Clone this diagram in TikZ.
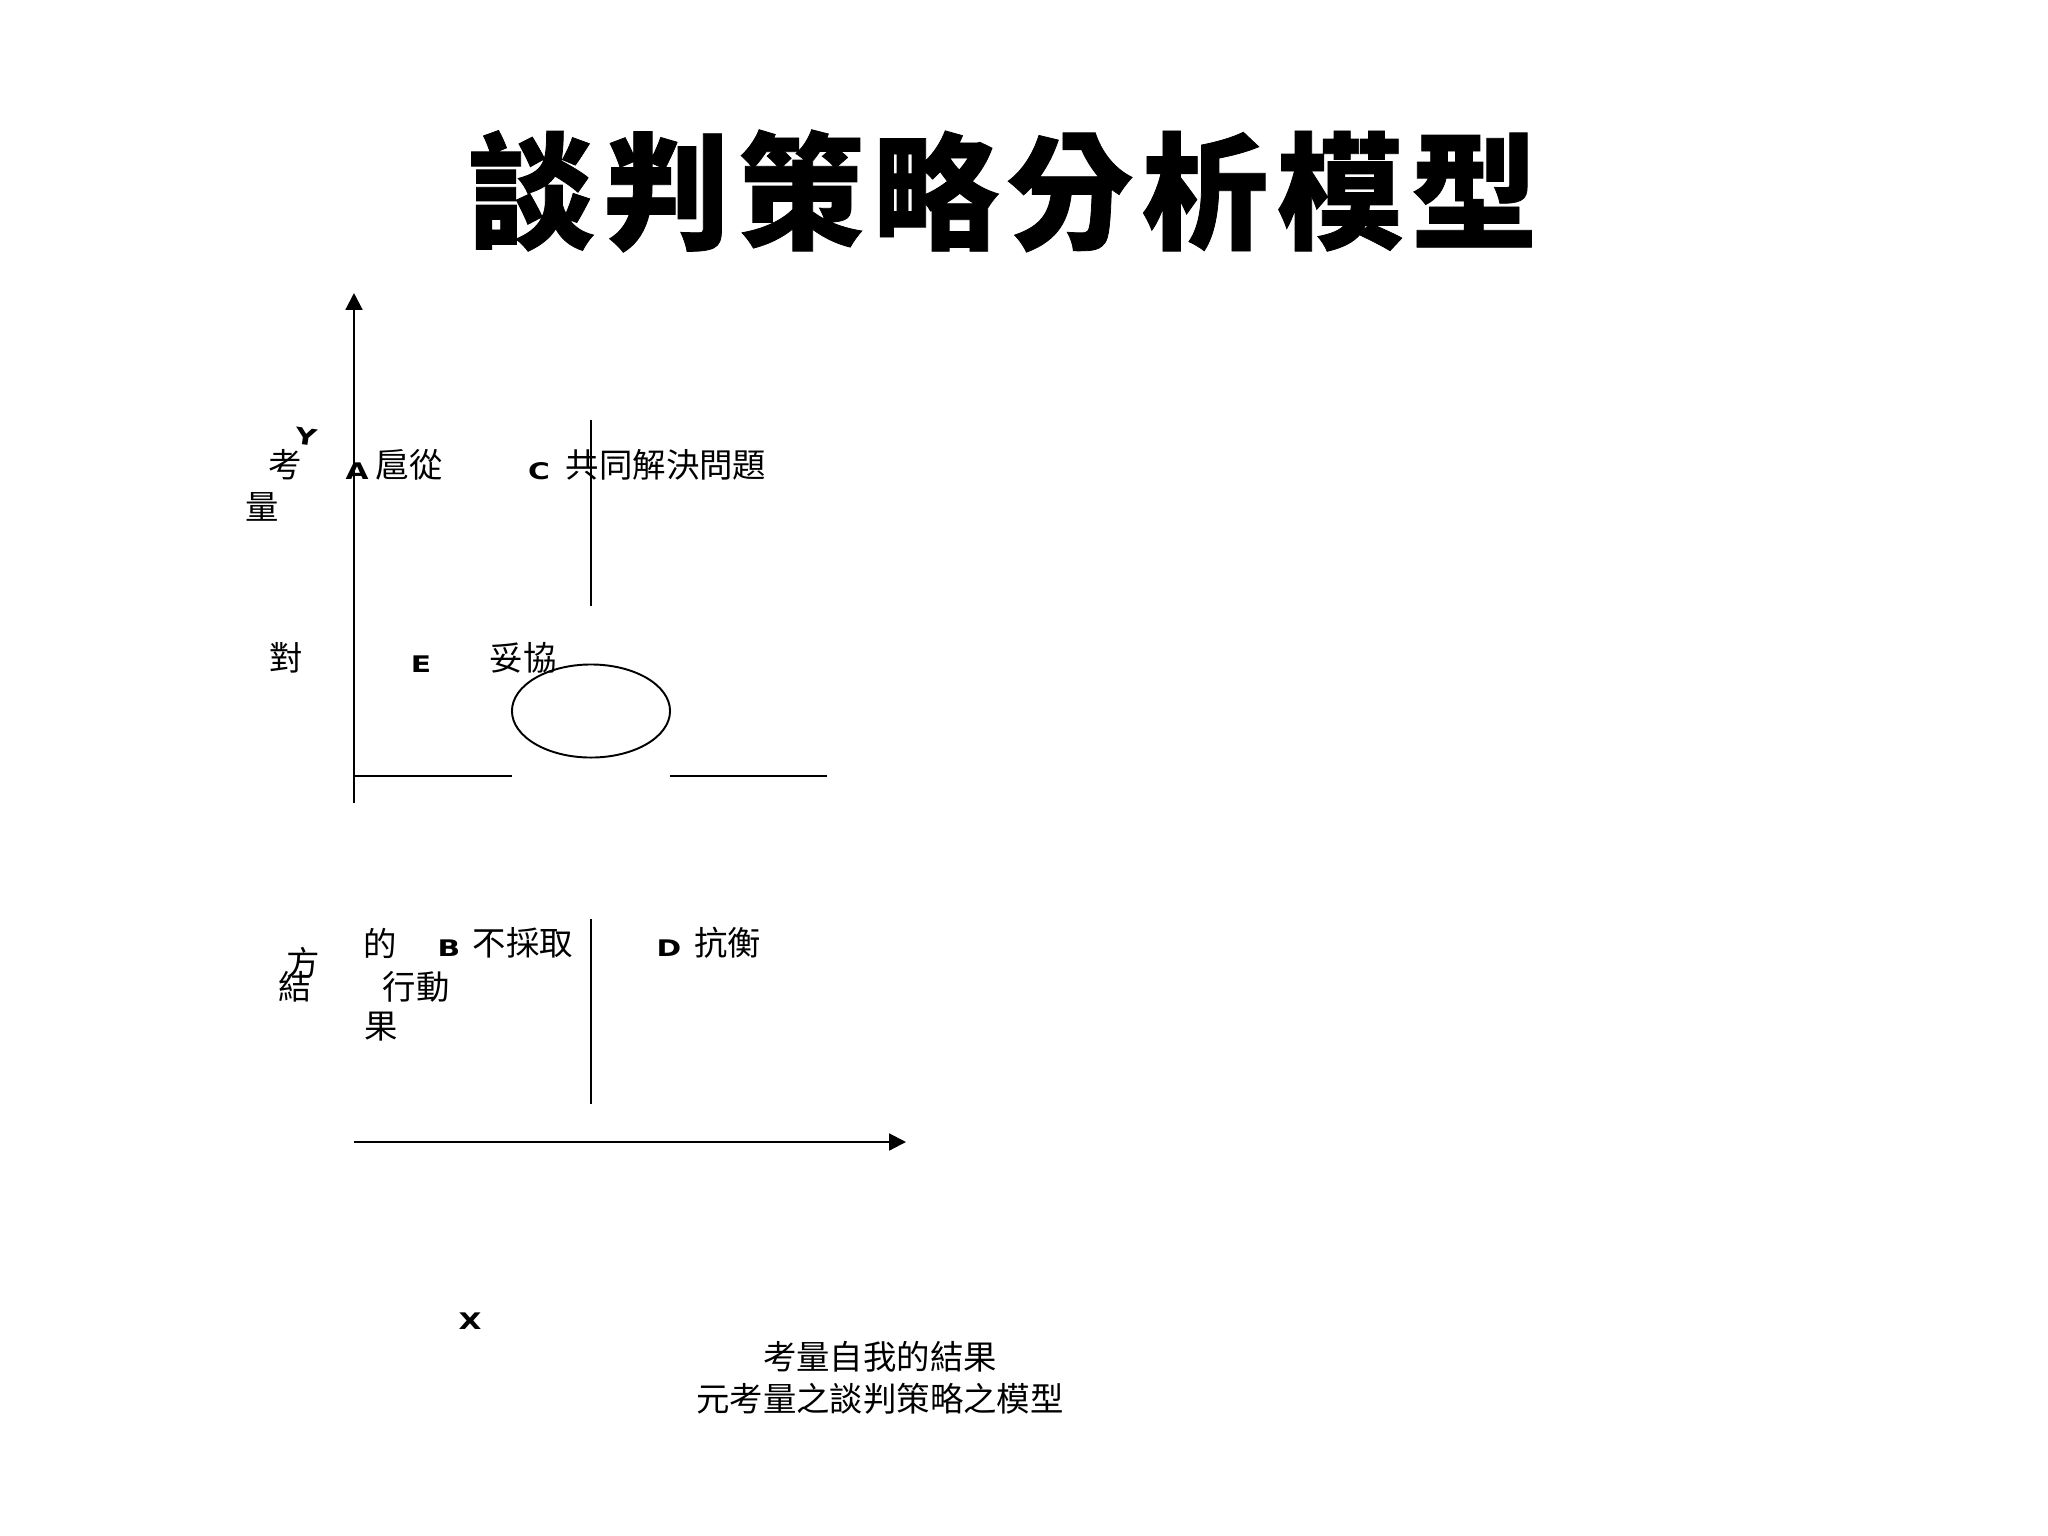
\documentclass[tikz,border=0pt]{standalone}
\usepackage{fontspec}
\setmainfont{DejaVu Sans}
\newfontfamily\cjk{Noto Sans CJK TC}
\newfontfamily\titlefont[BoldFeatures={FakeBold=0.6}]{Noto Sans CJK TC}
\newfontfamily\capfont[FakeStretch=1.3]{DejaVu Sans}
\newcommand\tgap{\hspace{2.3pt}}
\usetikzlibrary{arrows.meta,shapes.geometric}
\begin{document}
\begin{tikzpicture}[x=0.01cm,y=-0.01cm,
  lbl/.style={inner sep=0pt, font=\cjk\fontsize{9.5pt}{12pt}\selectfont},
  letter/.style={inner sep=0pt, font=\capfont\bfseries\fontsize{6.5pt}{8pt}\selectfont},
  axis/.style={line width=0.6pt, -{Triangle[length=4.8pt,width=4.8pt]}},
  ln/.style={line width=0.55pt}]
\useasboundingbox (0,0) rectangle (2048,1536);
% title
\node[inner sep=0pt, font=\titlefont\bfseries\fontsize{36pt}{42pt}\selectfont] (title) at (1003,191) {談\tgap 判\tgap 策\tgap 略\tgap 分\tgap 析\tgap 模\tgap 型};
% axes
\coordinate (yaxb) at (354,803);
\coordinate (yaxt) at (354,293);
\coordinate (xaxl) at (354,1142);
\coordinate (xaxr) at (906,1142);
\draw[axis] (yaxb) -- (yaxt);
\draw[axis] (xaxl) -- (xaxr);
% dividers
\coordinate (vu1) at (591,420);
\coordinate (vu2) at (591,606);
\coordinate (vl1) at (591,919);
\coordinate (vl2) at (591,1104);
\draw[ln] (vu1) -- (vu2);
\draw[ln] (vl1) -- (vl2);
\node[ellipse, draw, line width=0.55pt, minimum width=1.58cm, minimum height=0.93cm, inner sep=0pt] (ell) at (591,711) {};
\coordinate (hl1) at (354,776);
\coordinate (hl2) at (512,776);
\coordinate (hr1) at (670,776);
\coordinate (hr2) at (827,776);
\draw[ln] (hl1) -- (hl2);
\draw[ln] (hr1) -- (hr2);
% letters
\node[letter, rotate=-8] (ly) at (306,437) {Y};
\node[letter] (la) at (357,471) {A};
\node[letter] (lc) at (539,471) {C};
\node[letter] (le) at (421,664) {E};
\node[letter] (lb) at (449,948) {B};
\node[letter] (ld) at (669,948) {D};
\node[letter] (lx) at (470,1321) {X};
% cjk labels
\node[lbl] (t1) at (285.5,465) {考};
\node[lbl] (t2) at (262.5,507) {量};
\node[lbl] (t3) at (409,465) {扈從};
\node[lbl] (t4) at (666,465) {共同解決問題};
\node[lbl] (t5) at (286,658) {對};
\node[lbl] (t6) at (523,658) {妥協};
\node[lbl] (t7) at (380,943) {的};
\node[lbl] (t8) at (523,943) {不採取};
\node[lbl] (t9) at (727.5,943) {抗衡};
\node[lbl] (t10) at (303,963) {方};
\node[lbl] (t11) at (295,987) {結};
\node[lbl] (t12) at (416,987) {行動};
\node[lbl] (t13) at (381,1027) {果};
\node[lbl, align=center, font=\cjk\fontsize{9.5pt}{12pt}\selectfont] (cap) at (880,1378) {考量自我的結果\\元考量之談判策略之模型};
\end{tikzpicture}
\end{document}
